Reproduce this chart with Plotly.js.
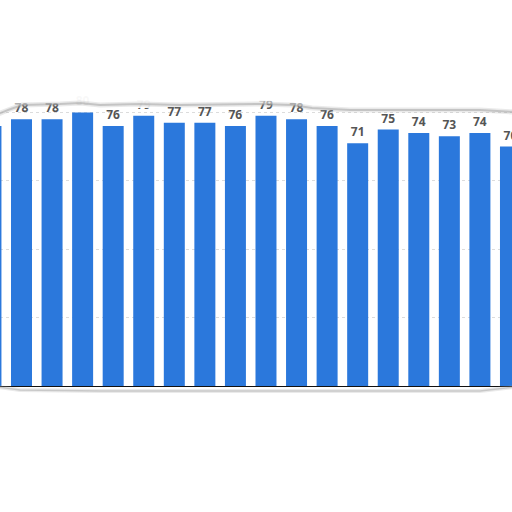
<!DOCTYPE html>
<html>
<head>
<meta charset="utf-8">
<script src="https://cdn.plot.ly/plotly-3.0.1.min.js"></script>
<style>html,body{margin:0;padding:0;background:#fff;}#chart{width:512px;height:512px;}</style>
</head>
<body>
<div id="chart"></div>
<script>
// Data (x tick labels are torn away; bars indexed in order)
var categories = [0, 1, 2, 3, 4, 5, 6, 7, 8, 9, 10, 11, 12, 13, 14, 15, 16, 17];
var values = [76, 78, 78, 80, 76, 79, 77, 77, 76, 79, 78, 76, 71, 75, 74, 73, 74, 70];
var yTicks = [0, 20, 40, 60, 80, 100];

// torn-paper decoration helpers (pixel -> paper coords)
var T = 44, B = 386, W = 512;
function px(x) { return x / W; }
function py(y) { return (B - y) / (B - T); }
function pathFrom(pts, close) {
  var s = '';
  pts.forEach(function (p, i) { s += (i ? 'L' : 'M') + px(p[0]).toFixed(4) + ',' + py(p[1]).toFixed(4); });
  return s + (close ? 'Z' : '');
}
var topEdge = [[-2,114],[8,110],[22,105],[60,104],[80,103],[100,105],[140,104],[180,105],[260,104],[292,105],[312,108],[350,110],[420,110],[480,110],[514,112]];
var topFill = topEdge.concat([[514,-5],[-2,-5]]);
var topSolid = [[-2,103],[40,101],[64,102],[68,110],[98,110],[102,103],[128,103],[132,108],[160,108],[164,102],[250,101],[514,101],[514,-5],[-2,-5]];
var botEdge = [[-2,387],[20,390],[100,391],[300,391],[480,391],[514,387]];
var botFill = botEdge.concat([[514,520],[-2,520]]);

var trace = {
  type: 'bar',
  x: categories,
  y: values,
  text: values.map(String),
  textposition: 'outside',
  cliponaxis: false,
  textfont: {family: 'Open Sans, sans-serif', size: 12, color: '#555555', weight: 'bold'},
  marker: {color: '#2b78dc', line: {width: 0}},
  hoverinfo: 'none'
};

var layout = {
  width: 512, height: 512,
  margin: {l: 0, r: 0, t: T, b: W - B, pad: 0},
  paper_bgcolor: '#ffffff',
  plot_bgcolor: '#ffffff',
  showlegend: false,
  bargap: 0.313,
  xaxis: {
    range: [0.2965, 17.05],
    showticklabels: false, ticks: '', showgrid: false, zeroline: false,
    showline: true, linecolor: '#111111', linewidth: 1
  },
  yaxis: {
    range: [0, 100],
    tickvals: yTicks,
    showticklabels: false, ticks: '',
    showgrid: true, gridcolor: '#dcdcdc', griddash: 'dot', gridwidth: 1,
    zeroline: false
  },
  shapes: [
    {type: 'path', xref: 'paper', yref: 'paper', path: pathFrom(topFill, true), fillcolor: 'rgba(255,255,255,0.55)', line: {width: 0}, layer: 'above'},
    {type: 'path', xref: 'paper', yref: 'paper', path: pathFrom(topSolid, true), fillcolor: 'rgba(255,255,255,0.9)', line: {width: 0}, layer: 'above'},
    {type: 'path', xref: 'paper', yref: 'paper', path: pathFrom(topEdge, false), line: {color: 'rgba(170,170,170,0.25)', width: 5}, layer: 'above'},
    {type: 'path', xref: 'paper', yref: 'paper', path: pathFrom(topEdge, false), line: {color: 'rgba(150,150,150,0.45)', width: 2}, layer: 'above'},
    {type: 'path', xref: 'paper', yref: 'paper', path: pathFrom(botFill, true), fillcolor: '#ffffff', line: {width: 0}, layer: 'above'},
    {type: 'path', xref: 'paper', yref: 'paper', path: pathFrom(botEdge, false), line: {color: 'rgba(170,170,170,0.25)', width: 4}, layer: 'above'},
    {type: 'path', xref: 'paper', yref: 'paper', path: pathFrom(botEdge, false), line: {color: 'rgba(160,160,160,0.45)', width: 1.5}, layer: 'above'}
  ]
};

Plotly.newPlot('chart', [trace], layout, {displayModeBar: false, staticPlot: true});
</script>
</body>
</html>
